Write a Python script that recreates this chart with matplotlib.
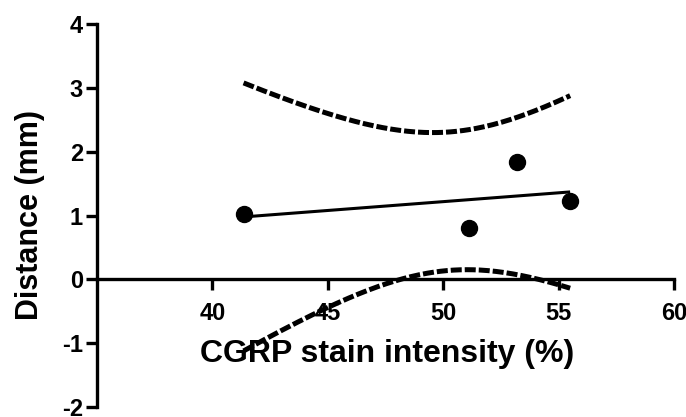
import numpy as np
import matplotlib.pyplot as plt

plt.rcParams['font.family'] = ['Liberation Sans', 'DejaVu Sans']
plt.rcParams['font.weight'] = 'bold'
plt.rcParams['axes.unicode_minus'] = False

# data
stain = [41.35, 51.1, 53.2, 55.5]
distance = [1.03, 0.80, 1.84, 1.23]
x_ticks = [40, 45, 50, 55, 60]
y_ticks = [-2, -1, 0, 1, 2, 3, 4]
t_crit = 4.303  # 95% two-sided, df = 2

x = np.array(stain)
y = np.array(distance)

# linear fit and 95% confidence band of the line
slope, icept = np.polyfit(x, y, 1)
xf = np.linspace(x.min(), x.max(), 200)
yf = slope * xf + icept
resid = y - (slope * x + icept)
s = np.sqrt(np.sum(resid ** 2) / (len(x) - 2))
sxx = np.sum((x - x.mean()) ** 2)
half = t_crit * s * np.sqrt(1 / len(x) + (xf - x.mean()) ** 2 / sxx)

fig = plt.figure(figsize=(6.86, 4.17), dpi=100)
ax = fig.add_axes([97 / 686, 10 / 417, 577 / 686, 383 / 417])

ax.plot(xf, yf, color='black', lw=2.2, solid_capstyle='butt')
ax.plot(xf, yf + half, color='black', lw=3.6, ls=(0, (2.2, 0.6)))
ax.plot(xf, yf - half, color='black', lw=3.6, ls=(0, (2.2, 0.6)))
ax.plot(x, y, 'o', color='black', ms=11.5)

ax.set_xlim(35, 60)
ax.set_ylim(-2, 4)
ax.set_xticks(x_ticks)
ax.set_yticks(y_ticks)

ax.spines['right'].set_color('none')
ax.spines['top'].set_color('none')
ax.spines['bottom'].set_position(('data', 0))
ax.spines['left'].set_linewidth(2.4)
ax.spines['bottom'].set_linewidth(2.4)
ax.tick_params(width=2.4, length=8, labelsize=17)
ax.tick_params(axis='x', pad=8)
ax.tick_params(axis='y', pad=2)

ax.set_xlabel('CGRP stain intensity (%)', fontsize=23, fontweight='bold')
ax.xaxis.set_label_coords(0.502, 0.178)
ax.set_ylabel('Distance (mm)', fontsize=22, fontweight='bold')
ax.yaxis.set_label_coords(-0.09, 0.5)

fig.savefig('out.png', dpi=100)
